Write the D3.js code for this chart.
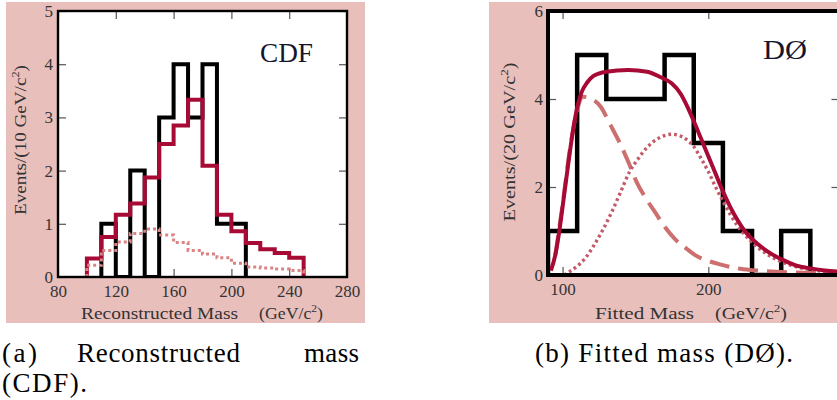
<!DOCTYPE html>
<html>
<head>
<meta charset="utf-8">
<script src="https://cdn.jsdelivr.net/npm/d3@7"></script>
<style>
body { margin: 0; background: #fff; }
svg text { font-family: 'Liberation Serif', 'Times New Roman', serif; }
.tick line { stroke: #555; stroke-width: 1.2; }
.tick text { fill: #333; font-size: 17px; }
</style>
</head>
<body>
<div id="chart"></div>
<script>
var width = 837
var height = 400

// CDF panel: 10 GeV bins, lower edges
var cdfObsBins = [110, 120, 130, 140, 150, 160, 170, 180, 190, 200]
var cdfObsCounts = [1, 0, 2, 0, 3, 4, 3, 4, 1, 1]
var cdfBins = [100, 110, 120, 130, 140, 150, 160, 170, 180, 190, 200, 210, 220, 230, 240]
var cdfExpected = [0.35, 0.75, 1.17, 1.38, 1.87, 2.5, 2.85, 3.33, 2.09, 1.17, 0.86, 0.64, 0.52, 0.45, 0.36]
var cdfBackground = [0.22, 0.5, 0.66, 0.82, 0.9, 0.79, 0.65, 0.5, 0.43, 0.36, 0.26, 0.19, 0.17, 0.15, 0.12]
var cdfXTicks = [80, 120, 160, 200, 240, 280]
var cdfYTicks = [0, 1, 2, 3, 4, 5]

// D0 panel: 20 GeV bins, lower edges
var d0Bins = [90, 110, 130, 150, 170, 190, 210, 230, 250]
var d0Counts = [1, 5, 4, 4, 5, 3, 1, 0, 1]
var d0TotalMass = [92, 95, 98, 101, 104, 107, 110, 113, 117, 121, 130, 145, 158, 167, 175, 181, 186, 190, 195, 200, 205, 210, 215, 220, 225, 230, 240, 250, 260, 270, 280, 290]
var d0Total = [0.1, 0.45, 1.05, 1.8, 2.55, 3.25, 3.8, 4.15, 4.38, 4.52, 4.62, 4.66, 4.62, 4.5, 4.35, 4.12, 3.8, 3.5, 3.1, 2.7, 2.3, 1.9, 1.55, 1.25, 1.0, 0.82, 0.55, 0.36, 0.22, 0.15, 0.1, 0.08]
var d0BkgMass = [95, 100, 105, 110, 114, 120, 126, 133, 140, 146, 151, 157, 163, 170, 177, 185, 192, 200, 208, 220, 231, 250, 270, 290]
var d0Bkg = [0.45, 1.6, 2.85, 3.75, 4.05, 4.0, 3.83, 3.4, 2.95, 2.5, 2.1, 1.75, 1.45, 1.1, 0.82, 0.6, 0.43, 0.32, 0.24, 0.15, 0.11, 0.07, 0.05, 0.04]
var d0SigMass = [101, 105, 110, 116, 122, 128, 134, 140, 146, 152, 158, 164, 170, 175, 180, 185, 190, 195, 200, 205, 210, 215, 220, 226, 232, 240, 250, 260, 270, 280, 290]
var d0Sig = [0.0, 0.08, 0.2, 0.4, 0.7, 1.05, 1.45, 1.9, 2.35, 2.65, 2.9, 3.07, 3.17, 3.2, 3.17, 3.08, 2.92, 2.65, 2.35, 2.0, 1.68, 1.38, 1.12, 0.88, 0.68, 0.48, 0.3, 0.19, 0.12, 0.08, 0.05]
var d0XTicks = [100, 200]
var d0YTicks = [0, 2, 4, 6]

var pink = '#e9bfbc'
var crimson = '#a80a36'

var svg = d3.select('#chart').append('svg')
    .attr('width', width)
    .attr('height', height)

function stepPoints(starts, values, w) {
    var pts = [[starts[0], 0]]
    starts.forEach(function(s, i) { pts.push([s, values[i]]) })
    var end = starts[starts.length - 1] + w
    pts.push([end, values[values.length - 1]])
    pts.push([end, 0])
    return pts
}

function zip(a, b) {
    return a.map(function(d, i) { return [d, b[i]] })
}

function unitLabel(sel, pre) {
    sel.append('tspan').text(pre)
    sel.append('tspan').attr('dy', -7).attr('font-size', '0.65em').text('2')
    sel.append('tspan').attr('dy', 7).text(')')
}

// stretch a label to the width it has in the figure
function fit(sel, len, mode) {
    sel.attr('textLength', len).attr('lengthAdjust', mode || 'spacingAndGlyphs')
}

function panel(opt) {
    var g = svg.append('g')
    g.append('rect')
        .attr('x', opt.bg[0]).attr('y', opt.bg[1])
        .attr('width', opt.bg[2]).attr('height', opt.bg[3])
        .attr('fill', pink)

    var x = d3.scaleLinear().domain(opt.xDomain).range([opt.left, opt.right])
    var y = d3.scaleLinear().domain(opt.yDomain).range([opt.bottom, opt.top])

    g.append('rect')
        .attr('x', opt.left).attr('y', opt.top)
        .attr('width', opt.right - opt.left).attr('height', opt.bottom - opt.top)
        .attr('fill', '#fff')

    var clipId = 'clip' + opt.id
    svg.append('clipPath').attr('id', clipId).append('rect')
        .attr('x', opt.left).attr('y', opt.top)
        .attr('width', opt.right - opt.left).attr('height', opt.bottom - opt.top)

    // inward ticks on all four sides
    g.append('g').attr('transform', 'translate(0,' + opt.bottom + ')')
        .call(d3.axisBottom(x).tickValues(opt.xTicks).tickSize(-8).tickPadding(8).tickFormat(d3.format('d')))
        .call(function(a) { a.select('.domain').remove() })
    g.append('g').attr('transform', 'translate(0,' + opt.top + ')')
        .call(d3.axisTop(x).tickValues(opt.xTicks).tickSize(-8).tickFormat(''))
        .call(function(a) { a.select('.domain').remove() })
    g.append('g').attr('transform', 'translate(' + opt.left + ',0)')
        .call(d3.axisLeft(y).tickValues(opt.yTicks).tickSize(-8).tickPadding(5).tickFormat(d3.format('d')))
        .call(function(a) { a.select('.domain').remove() })
    g.append('g').attr('transform', 'translate(' + opt.right + ',0)')
        .call(d3.axisRight(y).tickValues(opt.yTicks).tickSize(-8).tickFormat(''))
        .call(function(a) { a.select('.domain').remove() })
    g.selectAll('.tick text').attr('font-family', null)

    var plot = g.append('g').attr('clip-path', 'url(#' + clipId + ')')

    var frame = g.append('rect')
        .attr('x', opt.left).attr('y', opt.top)
        .attr('width', opt.right - opt.left).attr('height', opt.bottom - opt.top)
        .attr('fill', 'none').attr('stroke', '#000').attr('stroke-width', opt.frameWidth)

    g.append('text')
        .attr('x', opt.tag[0]).attr('y', opt.tag[1])
        .attr('font-size', 27).attr('fill', '#15152e')
        .call(fit, opt.tag[2])
        .text(opt.tagText)

    g.append('text').attr('fill', '#333').attr('font-size', 17).attr('y', 319)
        .attr('x', opt.xTitle[0])
        .call(fit, opt.xTitle[1])
        .text(opt.xTitleText)
    var ut = g.append('text').attr('fill', '#333').attr('font-size', 17).attr('y', 319)
        .attr('x', opt.xTitle[2])
        .call(fit, opt.xTitle[3])
    unitLabel(ut, '(GeV/c')

    var yt = g.append('text').attr('fill', '#333').attr('font-size', 17)
        .attr('text-anchor', 'middle')
        .attr('transform', 'translate(' + opt.yTitle[0] + ',' + opt.yTitle[1] + ') rotate(-90)')
        .call(fit, opt.yTitle[2])
    unitLabel(yt, opt.yTitleText)

    return { x: x, y: y, plot: plot, frame: frame }
}

// ---- CDF ----
var cdf = panel({
    id: 'a', bg: [6, 2, 359, 321],
    left: 58, right: 347, top: 11, bottom: 277,
    xDomain: [80, 280], yDomain: [0, 5],
    xTicks: cdfXTicks, yTicks: cdfYTicks, frameWidth: 2.4,
    tag: [260, 62, 53], tagText: 'CDF',
    xTitle: [81, 157, 259, 64], xTitleText: 'Reconstructed Mass',
    yTitle: [26, 140, 150], yTitleText: 'Events/(10 GeV/c'
})

var cdfLine = d3.line()
    .x(function(d) { return cdf.x(d[0]) })
    .y(function(d) { return cdf.y(d[1]) })
    .curve(d3.curveStepAfter)

cdf.plot.append('path')
    .attr('d', cdfLine(stepPoints(cdfObsBins, cdfObsCounts, 10)))
    .attr('fill', 'none').attr('stroke', '#000').attr('stroke-width', 4)
    .attr('stroke-linejoin', 'miter')

cdf.plot.append('path')
    .attr('d', cdfLine(stepPoints(cdfBins, cdfExpected, 10)))
    .attr('fill', 'none').attr('stroke', crimson).attr('stroke-width', 4)
    .attr('stroke-linejoin', 'miter')

cdf.plot.append('path')
    .attr('d', cdfLine(stepPoints(cdfBins, cdfBackground, 10)))
    .attr('fill', 'none').attr('stroke', '#d98383').attr('stroke-width', 3)
    .attr('stroke-dasharray', '3,3')

cdf.frame.raise()

// ---- D0 ----
var d0 = panel({
    id: 'b', bg: [489, 2, 348, 321],
    left: 548, right: 839.5, top: 11, bottom: 275,
    xDomain: [90, 290], yDomain: [0, 6],
    xTicks: d0XTicks, yTicks: d0YTicks, frameWidth: 4,
    tag: [763, 59, 44], tagText: 'DØ',
    xTitle: [595, 99, 715, 72], xTitleText: 'Fitted Mass',
    yTitle: [515, 142, 159], yTitleText: 'Events/(20 GeV/c'
})

var d0Step = d3.line()
    .x(function(d) { return d0.x(d[0]) })
    .y(function(d) { return d0.y(d[1]) })
    .curve(d3.curveStepAfter)

var d0Curve = d3.line()
    .x(function(d) { return d0.x(d[0]) })
    .y(function(d) { return d0.y(d[1]) })
    .curve(d3.curveMonotoneX)

d0.plot.append('path')
    .attr('d', d0Step(stepPoints(d0Bins, d0Counts, 20)))
    .attr('fill', 'none').attr('stroke', '#000').attr('stroke-width', 4.5)
    .attr('stroke-linejoin', 'miter')

d0.plot.append('path')
    .attr('d', d0Curve(zip(d0BkgMass, d0Bkg)))
    .attr('fill', 'none').attr('stroke', '#cd6f6f').attr('stroke-width', 4)
    .attr('stroke-dasharray', '20,9')

d0.plot.append('path')
    .attr('d', d0Curve(zip(d0SigMass, d0Sig)))
    .attr('fill', 'none').attr('stroke', '#c45a68').attr('stroke-width', 3.4)
    .attr('stroke-dasharray', '2.8,3')

d0.plot.append('path')
    .attr('d', d0Curve(zip(d0TotalMass, d0Total)))
    .attr('fill', 'none').attr('stroke', crimson).attr('stroke-width', 4)

d0.frame.raise()

// ---- captions ----
var cap = svg.append('g').attr('font-size', 27).attr('fill', '#000')
cap.append('text').attr('x', 2).attr('y', 362).call(fit, 35, 'spacing').text('(a)')
cap.append('text').attr('x', 77).attr('y', 362).call(fit, 163, 'spacing').text('Reconstructed')
cap.append('text').attr('x', 304).attr('y', 362).call(fit, 55, 'spacing').text('mass')
cap.append('text').attr('x', 2).attr('y', 392).call(fit, 85, 'spacing').text('(CDF).')
cap.append('text').attr('x', 535).attr('y', 362).call(fit, 258, 'spacing').text('(b) Fitted mass (DØ).')
</script>
</body>
</html>
